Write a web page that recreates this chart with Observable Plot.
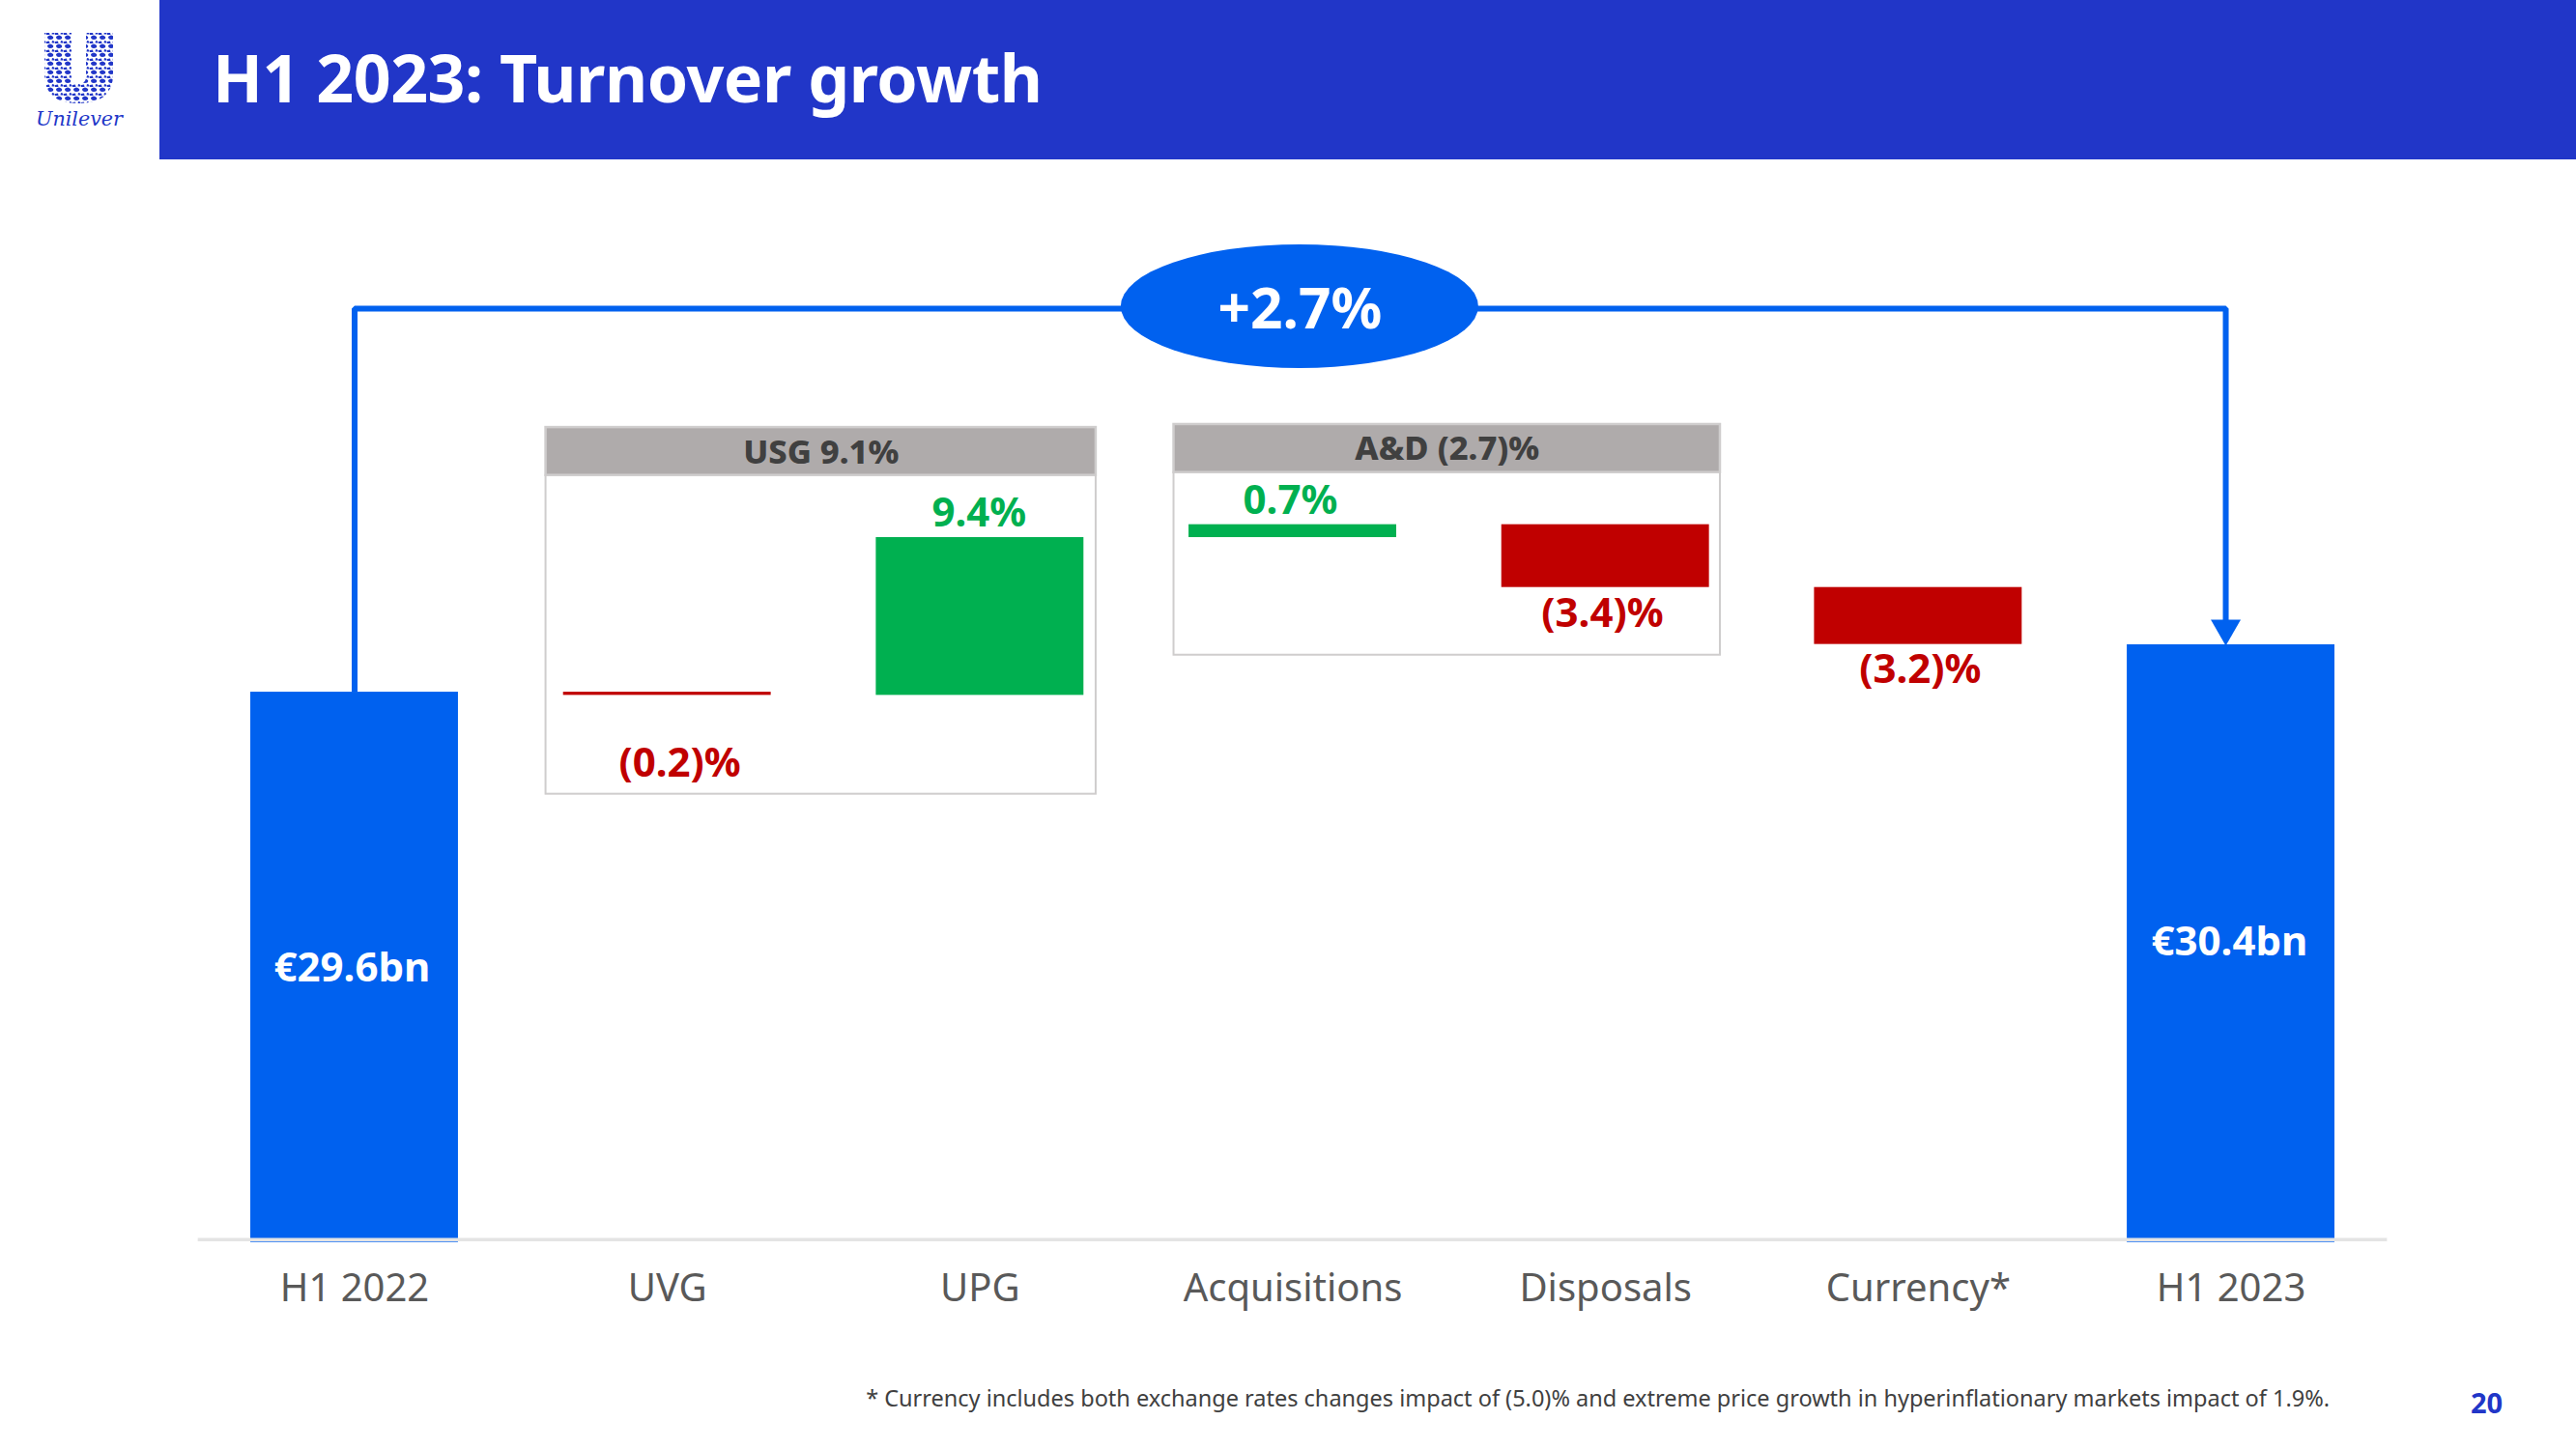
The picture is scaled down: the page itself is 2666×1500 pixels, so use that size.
<!DOCTYPE html>
<html><head><meta charset="utf-8">
<script src="https://cdn.jsdelivr.net/npm/d3@7"></script>
<script src="https://cdn.jsdelivr.net/npm/@observablehq/plot@0.6"></script>
<style>
html,body{margin:0;padding:0;background:#fff;width:2666px;height:1500px;overflow:hidden;font-family:"Noto Sans",sans-serif}
#head{position:relative;height:165px;width:2666px}
#band{position:absolute;left:165px;top:0;right:0;height:165px;background:#2136C8}
#title{position:absolute;left:220px;top:36px;font-size:68px;font-weight:700;color:#fff;line-height:88px;white-space:nowrap;letter-spacing:-.45px}
#logo{position:absolute;left:30px;top:27px}
#foot{position:relative;height:95px;width:2666px}
#note{position:absolute;right:255px;top:24px;font-size:23.5px;line-height:36px;color:#404040;white-space:nowrap}
#page{position:absolute;left:2557px;top:27px;font-size:29px;line-height:40px;font-weight:700;color:#2136C8}
svg{display:block}
</style></head><body>
<div id="head">
<svg id="logo" width="110" height="112" viewBox="0 0 110 112">
<defs>
<pattern id="tile" width="9" height="9" patternUnits="userSpaceOnUse">
<rect width="9" height="9" fill="#fff"/>
<path d="M1 2 Q4 -1 7 2 Q8 5 4 5 Q1 5 1 2Z M0 7 L3 6.5 L3.5 9 L0 9Z M6 6 Q9 6 8.5 8.5 L5.5 8.5Z" fill="#2136C8"/>
</pattern>
</defs>
<path d="M16 7 H44 V52 Q44 60 51 60 Q59 60 59 52 V7 H87 V50 Q87 80 51 80 Q16 80 16 50Z" fill="url(#tile)"/>
<text x="52" y="103" text-anchor="middle" font-family="DejaVu Serif" font-style="italic" font-size="21" textLength="90" lengthAdjust="spacingAndGlyphs" fill="#2136C8">Unilever</text>
</svg>
<div id="band"></div>
<div id="title">H1 2023: Turnover growth</div>
</div>
<div id="chart"></div>
<div id="foot">
<div id="note">* Currency includes both exchange rates changes impact of (5.0)% and extreme price growth in hyperinflationary markets impact of 1.9%.</div>
<div id="page">20</div>
</div>
<script>
const categories = ["H1 2022","UVG","UPG","Acquisitions","Disposals","Currency*","H1 2023"];
const kinds      = ["total","down","up","up","down","down","total"];
// bar ends as drawn, in percentage points above the (truncated) baseline
const barOpen  = [-0.27, 32.58, 32.39, 41.81, 42.58, 38.83, -0.27];
const barClose = [32.58, 32.39, 41.81, 42.58, 38.83, 35.43, 35.41];
const barLabels = ["€29.6bn","(0.2)%","9.4%","0.7%","(3.4)%","(3.2)%","€30.4bn"];
const labelX = [-0.008, 1.04, 1.997, 2.992, 3.99, 5.006, 5.995];
const labelY = [16.1, 28.3, 43.25, 44.0, 37.25, 33.9, 17.65];
const groupNames = ["USG 9.1%","A&D (2.7)%"];
const groupX1 = [0.612, 2.62];
const groupX2 = [2.371, 4.367];
const groupTop = [48.38, 48.56];
const groupHeadBottom = [45.52, 45.69];
const groupBottom = [26.49, 34.79];
const groupTextY = [46.88, 47.08];
const growthLabel = "+2.7%";
const bracketX = [0, 0, 5.983, 5.983];
const bracketY = [32.58, 55.48, 55.48, 36.6];
const colors = {total:"#0061EF", up:"#00B050", down:"#C00000"};
const FONT = '"Noto Sans", sans-serif';

const bars = categories.map((c,i)=>({c,i,kind:kinds[i],open:barOpen[i],close:barClose[i]}));
const labels = barLabels.map((t,i)=>({t,x:labelX[i],y:labelY[i],kind:kinds[i]}));
const groups = groupNames.map((t,i)=>({t,x1:groupX1[i],x2:groupX2[i],top:groupTop[i],head:groupHeadBottom[i],bottom:groupBottom[i],ty:groupTextY[i]}));
const bracket = bracketX.map((x,i)=>({x,y:bracketY[i]}));

function ellipse(cx, cy, rx, ry){
  return (_i, s)=>{
    const e = document.createElementNS("http://www.w3.org/2000/svg","ellipse");
    e.setAttribute("cx", s.x(cx)); e.setAttribute("cy", s.y(cy));
    e.setAttribute("rx", s.x(cx+rx)-s.x(cx)); e.setAttribute("ry", s.y(cy-ry)-s.y(cy));
    e.setAttribute("fill", colors.total);
    return e;
  };
}

const plot = Plot.plot({
  width:2666, height:1240,
  marginLeft:0, marginRight:0, marginTop:0, marginBottom:124,
  style:{background:"#fff", fontFamily:FONT},
  x:{domain:[-1.1323,7.1044], axis:null},
  y:{domain:[0,64.36], axis:null},
  marks:[
    Plot.rectY(groups,{x1:"x1",x2:"x2",y1:"bottom",y2:"head",fill:"#fff",stroke:"#CFCDCD",strokeWidth:2}),
    Plot.rectY(groups,{x1:"x1",x2:"x2",y1:"head",y2:"top",fill:"#AFABAB",stroke:"#CFCDCD",strokeWidth:2.5}),
    Plot.rectY(bars,{x1:d=>d.i-0.332,x2:d=>d.i+0.332,y1:"open",y2:"close",fill:d=>colors[d.kind]}),
    Plot.ruleY([-0.1],{x1:-0.5,x2:6.5,stroke:"#E4E4E4",strokeWidth:3.5}),
    Plot.line(bracket,{x:"x",y:"y",stroke:colors.total,strokeWidth:6,strokeLinejoin:"miter",strokeLinecap:"butt"}),
    Plot.dot([{x:5.983,y:36.39}],{x:"x",y:"y",symbol:"triangle",r:11.5,rotate:180,fill:colors.total,stroke:"none"}),
    ellipse(3.0228,55.6,0.5716,3.69),
    Plot.text([growthLabel],{x:3.0228,y:55.35,text:d=>d,fill:"#fff",fontSize:58.5,fontWeight:700}),
    Plot.text(groups,{x:d=>(d.x1+d.x2)/2,y:"ty",text:"t",fill:"#404040",fontSize:34.5,fontWeight:800}),
    Plot.text(labels,{x:"x",y:"y",text:"t",fill:d=>d.kind==="total"?"#fff":colors[d.kind],fontSize:42,fontWeight:700}),
    Plot.axisX({anchor:"bottom",ticks:d3.range(categories.length),tickFormat:i=>categories[i],tickSize:0,tickPadding:37,fontSize:40,color:"#595959",label:null})
  ]
});
document.getElementById("chart").appendChild(plot);
</script>
</body></html>
